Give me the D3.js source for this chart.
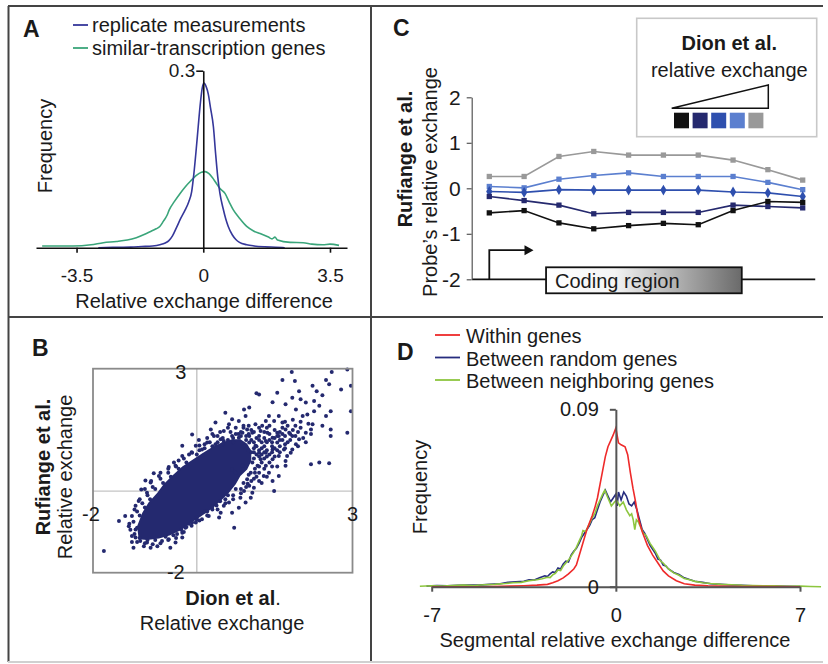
<!DOCTYPE html>
<html>
<head>
<meta charset="utf-8">
<script src="https://cdn.jsdelivr.net/npm/d3@7"></script>
<style>
  body { margin: 0; background: #fff; }
  svg text { font-family: "Liberation Sans", Arial, Helvetica, sans-serif; fill: #1a1a1a; }
</style>
</head>
<body>
<svg id="fig" width="828" height="664"></svg>
<script>
// ---- Panel A: frequency of relative exchange difference ----
const aTicks = [-3.5, 0, 3.5];
const replicateCurve = [[-2.9,0],[-2.5,0.0005],[-2.0,0.001],[-1.7,0.002],[-1.4,0.003],[-1.2,0.005],[-1.05,0.008],[-0.95,0.012],[-0.85,0.02],[-0.74,0.034],[-0.62,0.05],[-0.5,0.064],[-0.4,0.078],[-0.32,0.095],[-0.26,0.125],[-0.2,0.163],[-0.14,0.205],[-0.08,0.245],[-0.03,0.27],[0.02,0.279],[0.08,0.273],[0.14,0.26],[0.2,0.237],[0.28,0.205],[0.34,0.16],[0.4,0.12],[0.46,0.092],[0.55,0.066],[0.62,0.049],[0.69,0.036],[0.8,0.022],[0.9,0.014],[1.0,0.009],[1.2,0.005],[1.4,0.003],[1.7,0.0015],[2.0,0.0008],[2.25,0]];
const similarCurve = [[-4.45,0.003],[-3.6,0.003],[-3.1,0.005],[-2.76,0.0085],[-2.4,0.0105],[-2.1,0.013],[-1.85,0.017],[-1.57,0.024],[-1.4,0.029],[-1.3,0.032],[-1.2,0.036],[-1.1,0.045],[-1.0,0.055],[-0.94,0.064],[-0.8,0.078],[-0.64,0.092],[-0.5,0.103],[-0.35,0.113],[-0.2,0.122],[-0.05,0.128],[0.05,0.129],[0.15,0.126],[0.25,0.119],[0.35,0.11],[0.45,0.101],[0.6,0.092],[0.72,0.077],[0.83,0.064],[1.0,0.05],[1.2,0.036],[1.4,0.028],[1.57,0.024],[1.8,0.018],[1.9,0.015],[1.98,0.018],[2.05,0.013],[2.4,0.009],[2.76,0.0085],[3.0,0.006],[3.3,0.005],[3.5,0.006],[3.75,0.004]];
const aLegend = ["replicate measurements", "similar-transcription genes"];

// ---- Panel B: scatter Dion vs Rufiange ----
const bTicks = [-2, 3];
// outline of the saturated dense core (points overlap into a solid mass)
const scatterCore = [[-1.12,-1.18],[-1.15,-0.86],[-1.05,-0.53],[-0.93,-0.28],[-0.76,-0.04],[-0.64,0.17],[-0.48,0.37],[-0.28,0.6],[-0.09,0.76],[0.1,0.92],[0.3,1.08],[0.49,1.2],[0.68,1.27],[0.84,1.27],[0.97,1.16],[1.05,0.98],[1.05,0.74],[0.97,0.53],[0.84,0.37],[0.75,0.17],[0.62,-0.04],[0.46,-0.24],[0.27,-0.45],[0.07,-0.63],[-0.12,-0.79],[-0.31,-0.96],[-0.51,-1.08],[-0.73,-1.16],[-0.96,-1.2]];
const scatterPoints = [[1.83,2.92],[2.60,2.92],[2.90,2.98],[2.97,2.58],[2.78,2.49],[2.49,2.72],[2.55,2.62],[2.23,2.58],[2.31,2.45],[2.42,2.35],[1.97,2.45],[1.89,2.70],[1.65,2.72],[1.55,2.41],[1.20,2.37],[1.15,2.40],[1.46,2.18],[1.71,2.13],[1.84,2.29],[2.00,2.25],[2.10,2.17],[2.26,2.21],[2.36,2.09],[1.91,2.00],[2.04,1.84],[2.13,1.88],[2.26,1.96],[2.49,1.84],[2.58,1.96],[2.97,1.96],[2.42,1.60],[2.58,1.51],[2.90,1.43],[2.58,1.35],[2.20,0.66],[2.36,0.70],[2.55,0.68],[1.71,0.62],[1.71,0.74],[1.74,0.86],[1.81,0.94],[1.46,0.25],[1.49,0.00],[1.10,0.08],[1.20,0.25],[1.29,0.37],[1.39,0.45],[1.58,0.37],[1.84,1.02],[1.91,1.15],[1.97,1.27],[2.10,1.43],[2.20,1.51],[2.23,1.64],[1.01,2.05],[0.91,2.00],[0.55,1.92],[0.68,1.76],[0.81,1.72],[0.94,1.84],[1.13,1.64],[1.26,1.60],[1.33,1.72],[1.39,1.84],[1.49,1.72],[1.58,1.84],[1.65,1.68],[1.71,1.51],[1.78,1.43],[1.84,1.35],[1.55,1.43],[1.46,1.31],[1.33,1.23],[1.20,1.35],[1.07,1.43],[0.97,1.51],[0.88,1.43],[0.75,1.55],[0.62,1.64],[0.52,1.47],[0.36,1.68],[0.27,1.51],[0.33,1.35],[0.46,1.27],[-0.09,1.39],[0.04,1.25],[-0.28,1.11],[-0.41,0.62],[-0.54,0.59],[-0.83,0.44],[-0.99,0.26],[-1.07,0.04],[-1.12,-0.24],[-1.38,-0.61],[-1.50,-0.73],[-1.79,-1.47],[-1.22,-1.39],[-1.02,-1.35],[-0.89,-1.39],[-0.76,-1.35],[-0.51,-1.39],[-0.41,-1.26],[-0.28,-1.02],[-0.09,-0.77],[0.10,-0.69],[0.23,-0.61],[0.43,-0.65],[0.46,-0.53],[0.72,-0.90],[0.68,-0.53],[0.81,-0.41],[0.94,-0.28],[1.04,-0.16],[1.07,-0.04],[1.01,0.13],[1.20,0.45],[1.33,0.62],[1.46,0.78],[1.58,0.86],[1.68,1.02],[1.20,0.94],[1.13,1.11],[1.01,1.19],[1.07,0.70],[0.88,0.62],[0.68,0.53],[0.75,0.45],[-0.09,0.94],[0.10,1.02],[-0.28,0.86],[-0.44,0.70],[-0.73,0.37],[-0.89,0.21],[-0.96,-0.04],[-1.18,-0.36],[-1.25,-0.61],[-1.31,-0.86],[-1.18,-0.94],[-1.18,-1.14],[-1.09,-1.22],[-0.96,-1.26],[-0.67,-1.22],[-0.54,-1.18],[-0.22,-0.90],[-0.02,-0.77],[-0.28,-1.14],[0.30,-0.45],[0.52,-0.36],[0.62,-0.28],[0.84,-0.16],[0.91,0.00],[0.97,0.29],[1.04,0.45],[1.17,0.62],[1.23,0.78],[1.33,0.94],[1.46,1.02],[1.55,1.19],[1.58,1.35],[1.36,1.43],[1.23,1.47],[1.01,1.35],[0.81,1.31],[0.68,1.35],[0.52,1.23],[0.36,1.15],[0.20,1.19],[-0.02,1.11],[-1.15,-0.9],[-1.2,-1.05],[-1.1,-0.6],[-1.0,-0.4],[-0.9,-0.2],[-0.8,0.05],[-0.65,0.2],[-0.5,0.35],[-0.35,0.55],[-0.2,0.7],[0.0,0.9],[0.15,1.05],[0.3,1.1],[0.5,1.15],[0.7,1.2],[0.9,1.1],[1.05,0.95],[1.1,0.8],[1.12,0.55],[1.0,0.4],[0.9,0.2],[0.75,0.05],[0.6,-0.1],[0.45,-0.25],[0.3,-0.38],[0.15,-0.5],[0.0,-0.65],[-0.15,-0.8],[-0.3,-0.95],[-0.45,-1.08],[-0.6,-1.12],[-0.8,-1.2],[-0.95,-1.2],[-1.1,-1.15],[1.2,1.0],[1.3,1.1],[1.4,1.25],[1.25,1.2],[1.15,1.3],[1.05,1.25],[0.95,1.35],[1.35,0.85],[1.45,0.95],[0.85,1.45],[0.65,1.45],[1.6,1.1],[1.65,1.25],[1.75,1.2],[1.5,1.5],[1.4,1.6],[1.9,1.6],[2.0,1.7],[1.85,1.75],[2.15,1.65],[1.7,1.35],[1.0,1.0],[1.1,1.05],[1.15,0.9],[1.25,1.05],[1.3,0.95],[1.35,1.2],[1.45,1.1],[1.5,1.3],[1.55,1.0],[1.6,1.45],[1.65,1.55],[1.7,1.05],[1.75,1.6],[1.8,1.25],[1.85,1.5],[1.95,1.45],[2.0,1.55],[2.05,1.3],[1.2,1.55],[1.1,1.45],[1.0,1.6],[0.9,1.55],[0.8,1.4],[0.7,1.3],[0.6,1.25],[0.5,1.3],[0.4,1.2],[0.25,1.2],[0.15,1.15],[1.25,0.7],[1.3,0.55],[1.15,0.35],[1.05,0.25],[0.95,0.1],[0.85,-0.05],[0.7,-0.2],[0.55,-0.3],[0.4,-0.45],[0.2,-0.6],[0.05,-0.72],[-0.1,-0.85],[-0.25,-1.0],[-0.4,-1.15],[-0.7,-1.28],[-0.85,-1.3],[-1.0,-1.28],[-1.15,-1.25],[-1.25,-1.1],[-1.28,-0.95],[-1.22,-0.75],[-1.15,-0.5],[-1.05,-0.3],[-0.95,-0.1],[-0.85,0.1],[-0.7,0.3],[-0.55,0.45],[-0.4,0.6],[-0.25,0.8],[-0.1,0.95],[0.05,1.0],[1.4,0.7],[1.5,0.85],[1.6,0.95],[1.55,0.6],[1.35,0.35],[1.25,0.2],[1.7,1.15],[1.9,1.35],[2.1,1.2],[2.2,1.4],[1.95,1.1],[0.6,1.55],[0.45,1.45],[0.3,1.4],[1.1,1.2],[1.15,1.1],[1.2,1.25],[1.25,0.9],[1.3,1.3],[1.35,1.0],[1.4,1.4],[1.45,1.2],[1.5,1.05],[1.55,1.35],[1.6,1.25],[1.65,1.4],[1.1,0.95],[1.2,0.85],[1.3,0.8],[1.4,0.9],[1.0,1.4],[1.05,1.5],[0.95,1.25],[0.85,1.35],[0.75,1.4],[0.9,1.6],[1.3,1.45],[1.35,1.55],[1.7,1.7],[1.8,1.4],[1.45,0.6],[1.2,0.6],[1.12,0.45],[1.1,0.3],[0.98,0.18],[0.85,0.05],[0.7,-0.1],[0.55,-0.2],[0.38,-0.35],[0.2,-0.5],[0.0,-0.7],[-0.2,-0.88],[-0.38,-1.05],[-0.55,-1.2],[-1.25,-1.25],[-1.3,-0.8],[-1.2,-0.45],[-1.1,-0.2],[-1.0,0.05],[-0.88,0.25],[-0.7,0.45],[-0.55,0.55],[-0.35,0.75],[-0.15,0.9],[0.05,1.12],[0.2,1.3],[0.4,1.35]];

// ---- Panel C: probe profiles along genes ----
const probeIdx = [1, 2, 3, 4, 5, 6, 7, 8, 9, 10];
const cTicks = [-2, -1, 0, 1, 2];
const cGray = [0.26, 0.26, 0.70, 0.81, 0.73, 0.73, 0.73, 0.62, 0.41, 0.18];
const cLightBlue = [0.04, 0.01, 0.20, 0.28, 0.34, 0.26, 0.26, 0.26, 0.13, -0.03];
const cBlue = [-0.07, -0.09, -0.03, -0.04, -0.04, -0.04, -0.04, -0.08, -0.10, -0.18];
const cNavy = [-0.18, -0.27, -0.37, -0.56, -0.53, -0.53, -0.53, -0.37, -0.40, -0.43];
const cBlack = [-0.54, -0.49, -0.76, -0.89, -0.82, -0.77, -0.80, -0.49, -0.29, -0.31];

// ---- Panel D: segmental relative exchange difference ----
const dTicks = [-7, 0, 7];
const withinGenes = [[-7,0],[-5,0],[-4,0.0003],[-3.5,0.0005],[-3,0.0008],[-2.6,0.0012],[-2.4,0.002],[-2.2,0.003],[-2,0.0045],[-1.8,0.0065],[-1.6,0.009],[-1.5,0.011],[-1.3,0.02],[-1.1,0.029],[-0.9,0.036],[-0.8,0.04],[-0.7,0.045],[-0.6,0.052],[-0.5,0.059],[-0.4,0.066],[-0.3,0.071],[-0.2,0.074],[-0.1,0.077],[0,0.0805],[0.1,0.073],[0.2,0.072],[0.35,0.071],[0.45,0.067],[0.55,0.058],[0.65,0.05],[0.75,0.043],[0.85,0.035],[1.0,0.028],[1.2,0.021],[1.4,0.016],[1.6,0.012],[1.8,0.008],[2.0,0.0055],[2.3,0.003],[2.6,0.0015],[3,0.0008],[3.5,0.0004],[4.5,0.0001],[7,0]];
const randomGenes = [[-7.2,0.0003],[-6.8,0.0006],[-6.4,0.0004],[-6,0.0007],[-5.6,0.0009],[-5.2,0.0008],[-4.8,0.0012],[-4.4,0.0015],[-4.1,0.0022],[-3.8,0.0025],[-3.5,0.0028],[-3.3,0.0035],[-3.1,0.0034],[-2.9,0.0045],[-2.7,0.0055],[-2.6,0.0052],[-2.5,0.0065],[-2.4,0.0075],[-2.3,0.0072],[-2.2,0.0095],[-2.1,0.009],[-2.0,0.0115],[-1.9,0.013],[-1.8,0.0125],[-1.7,0.016],[-1.6,0.018],[-1.5,0.0195],[-1.4,0.022],[-1.3,0.025],[-1.2,0.027],[-1.1,0.029],[-1.0,0.031],[-0.9,0.034],[-0.8,0.035],[-0.7,0.039],[-0.6,0.043],[-0.5,0.046],[-0.4,0.049],[-0.3,0.046],[-0.2,0.043],[-0.1,0.045],[0,0.047],[0.05,0.041],[0.1,0.048],[0.2,0.044],[0.3,0.048],[0.4,0.046],[0.5,0.042],[0.6,0.041],[0.7,0.043],[0.8,0.039],[0.9,0.034],[1.0,0.029],[1.1,0.027],[1.2,0.024],[1.3,0.021],[1.4,0.019],[1.5,0.017],[1.6,0.014],[1.7,0.0135],[1.8,0.011],[1.9,0.0105],[2.0,0.009],[2.2,0.0072],[2.4,0.0062],[2.6,0.0045],[2.8,0.0036],[3.0,0.0028],[3.3,0.0022],[3.6,0.0015],[4.0,0.0012],[4.4,0.0009],[4.8,0.0007],[5.2,0.0005],[5.6,0.0004],[6.0,0.0003],[6.5,0.0002],[7,0.0001]];
const neighborGenes = [[-7.45,0.0002],[-7,0.0005],[-6.6,0.0003],[-6.2,0.0006],[-5.8,0.0008],[-5.4,0.0006],[-5,0.001],[-4.6,0.0012],[-4.2,0.0016],[-3.9,0.002],[-3.6,0.0022],[-3.3,0.003],[-3.0,0.0035],[-2.8,0.004],[-2.6,0.0048],[-2.5,0.0046],[-2.4,0.006],[-2.3,0.0068],[-2.2,0.0085],[-2.1,0.0082],[-2.0,0.0105],[-1.9,0.012],[-1.8,0.0135],[-1.7,0.0155],[-1.6,0.0175],[-1.5,0.02],[-1.4,0.023],[-1.3,0.026],[-1.25,0.0285],[-1.15,0.028],[-1.0,0.032],[-0.9,0.035],[-0.8,0.037],[-0.7,0.041],[-0.6,0.044],[-0.5,0.047],[-0.42,0.049],[-0.3,0.045],[-0.17,0.041],[-0.05,0.043],[0.02,0.044],[0.15,0.041],[0.28,0.043],[0.4,0.039],[0.53,0.036],[0.6,0.037],[0.66,0.034],[0.72,0.029],[0.78,0.034],[0.85,0.033],[0.95,0.03],[1.05,0.027],[1.15,0.026],[1.3,0.022],[1.4,0.02],[1.5,0.018],[1.6,0.0155],[1.7,0.013],[1.8,0.012],[1.9,0.0105],[2.0,0.009],[2.2,0.007],[2.4,0.0058],[2.6,0.0042],[2.8,0.0035],[3.0,0.0027],[3.3,0.002],[3.6,0.0016],[4.0,0.0012],[4.4,0.001],[4.8,0.0007],[5.2,0.0006],[5.6,0.0004],[6.0,0.0004],[6.5,0.0002],[7,0.0003],[7.4,0.0001],[7.8,0]];
const dLegend = ["Within genes", "Between random genes", "Between neighboring genes"];

const svg = d3.select("#fig");
const plain = d => String(d);

function label(g, x, y, s, size, opts = {}) {
    const t = g.append("text")
        .attr("x", x).attr("y", y)
        .attr("font-size", size)
        .attr("text-anchor", opts.anchor || "start")
        .attr("dominant-baseline", "central")
        .text(s);
    if (opts.bold) t.attr("font-weight", "bold");
    if (opts.rotate) t.attr("transform", `rotate(-90, ${x}, ${y})`);
    return t;
}

function styleAxis(g, color, width, size) {
    g.attr("color", color);
    g.selectAll("path, line").attr("stroke-width", width);
    g.selectAll("text").attr("font-size", size).style("fill", "#1a1a1a");
}

// figure frame and panel dividers
const frame = svg.append("g").attr("stroke", "#444").attr("stroke-width", 2);
frame.append("line").attr("x1", 8).attr("x2", 823).attr("y1", 6).attr("y2", 6);
frame.append("line").attr("x1", 8.5).attr("x2", 8.5).attr("y1", 6).attr("y2", 662);
frame.append("line").attr("x1", 371).attr("x2", 371).attr("y1", 6).attr("y2", 662);
frame.append("line").attr("x1", 8).attr("x2", 823).attr("y1", 317).attr("y2", 317);
frame.append("line").attr("x1", 8).attr("x2", 823).attr("y1", 662).attr("y2", 662).attr("stroke", "#d0d0d0");

// ================= Panel A =================
const gA = svg.append("g");
const xA = d3.scaleLinear().domain([-4.62, 3.97]).range([36, 347]);
const yA = d3.scaleLinear().domain([0, 0.3]).range([247.7, 70.7]);
const lineA = d3.line().x(d => xA(d[0])).y(d => yA(d[1])).curve(d3.curveMonotoneX);
const aColors = ["#35379a", "#3aa57a"];

gA.append("path").datum(similarCurve).attr("d", lineA)
    .attr("fill", "none").attr("stroke", aColors[1]).attr("stroke-width", 1.6);
gA.append("path").datum(replicateCurve).attr("d", lineA)
    .attr("fill", "none").attr("stroke", aColors[0]).attr("stroke-width", 1.6);

const axA = gA.append("g").attr("transform", `translate(0,${yA(0)})`)
    .call(d3.axisBottom(xA).tickValues(aTicks).tickSize(5).tickSizeOuter(0).tickPadding(16).tickFormat(plain));
styleAxis(axA, "#111", 1.6, 19);
const ayA = gA.append("g").attr("transform", `translate(${xA(0)},0)`)
    .call(d3.axisLeft(yA).tickValues([0.3]).tickSize(7).tickSizeOuter(0).tickPadding(1).tickFormat(plain));
styleAxis(ayA, "#111", 1.6, 19);

label(gA, 23, 29, "A", 23, { bold: true });
aLegend.forEach((s, i) => {
    const y = 25 + i * 23;
    gA.append("line").attr("x1", 73).attr("x2", 88).attr("y1", y).attr("y2", y)
        .attr("stroke", aColors[i]).attr("stroke-width", 1.8);
    label(gA, 92, y, s, 20);
});
label(gA, 45, 146, "Frequency", 20, { anchor: "middle", rotate: true });
label(gA, 204, 301, "Relative exchange difference", 20, { anchor: "middle" });

// ================= Panel B =================
const gB = svg.append("g");
const xB = d3.scaleLinear().domain([-2, 3]).range([93, 352.5]);
const yB = d3.scaleLinear().domain([-2, 3]).range([572.7, 368.7]);

gB.append("line").attr("x1", xB(0)).attr("x2", xB(0)).attr("y1", yB(-2)).attr("y2", yB(3))
    .attr("stroke", "#c4c4c4").attr("stroke-width", 1.4);
gB.append("line").attr("x1", xB(-2)).attr("x2", xB(3)).attr("y1", yB(0)).attr("y2", yB(0))
    .attr("stroke", "#c4c4c4").attr("stroke-width", 1.4);

const dotColor = "#24296f";
gB.append("path").datum(scatterCore)
    .attr("d", d3.line().x(d => xB(d[0])).y(d => yB(d[1])).curve(d3.curveLinearClosed))
    .attr("fill", dotColor);
gB.append("g").selectAll("circle").data(scatterPoints).join("circle")
    .attr("cx", d => xB(d[0])).attr("cy", d => yB(d[1])).attr("r", 2)
    .attr("fill", dotColor);

gB.append("rect").attr("x", xB(-2)).attr("y", yB(3))
    .attr("width", xB(3) - xB(-2)).attr("height", yB(-2) - yB(3))
    .attr("fill", "none").attr("stroke", "#8a8a8a").attr("stroke-width", 1.8);

label(gB, xB(0) - 16, yB(3) + 3, plain(bTicks[1]), 20, { anchor: "middle" });
label(gB, xB(0) - 21, yB(-2) - 1, plain(bTicks[0]), 20, { anchor: "middle" });
label(gB, xB(-2) - 2, yB(0) + 23, plain(bTicks[0]), 20, { anchor: "middle" });
label(gB, xB(3), yB(0) + 23, plain(bTicks[1]), 20, { anchor: "middle" });

label(gB, 32, 348, "B", 23, { bold: true });
label(gB, 43, 467, "Rufiange et al.", 20, { anchor: "middle", bold: true, rotate: true });
label(gB, 65, 477, "Relative exchange", 20, { anchor: "middle", rotate: true });
const dion = gB.append("text").attr("x", 233).attr("y", 598).attr("font-size", 20)
    .attr("text-anchor", "middle").attr("dominant-baseline", "central");
dion.append("tspan").attr("font-weight", "bold").text("Dion et al");
dion.append("tspan").text(".");
label(gB, 222, 623, "Relative exchange", 20, { anchor: "middle" });

// ================= Panel C =================
const gC = svg.append("g");
const xC = d3.scaleLinear().domain([1, 10]).range([489.3, 802.7]);
const yC = d3.scaleLinear().domain([-2, 2]).range([279.3, 97.3]);

// gene diagram (positions in probe units)
const gene = { arrowTip: 2.27, codingStart: 2.63, codingEnd: 8.25, lineEnd: 10.36, arrowTop: -1.36 };
const grad = svg.append("defs").append("linearGradient").attr("id", "coding");
grad.append("stop").attr("offset", "0%").attr("stop-color", "#ffffff");
grad.append("stop").attr("offset", "35%").attr("stop-color", "#f4f4f4");
grad.append("stop").attr("offset", "100%").attr("stop-color", "#6a6a6a");

gC.append("line").attr("x1", 472).attr("x2", xC(gene.lineEnd))
    .attr("y1", yC(-2)).attr("y2", yC(-2)).attr("stroke", "#111").attr("stroke-width", 1.8);
gC.append("path")
    .attr("d", `M${xC(1)},${yC(-2)} V${yC(gene.arrowTop)} H${xC(gene.arrowTip) - 8}`)
    .attr("fill", "none").attr("stroke", "#111").attr("stroke-width", 1.8);
gC.append("path")
    .attr("d", `M${xC(gene.arrowTip) - 9},${yC(gene.arrowTop) - 5} L${xC(gene.arrowTip)},${yC(gene.arrowTop)} L${xC(gene.arrowTip) - 9},${yC(gene.arrowTop) + 5} Z`)
    .attr("fill", "#111");
gC.append("rect").attr("x", xC(gene.codingStart)).attr("y", yC(-2) - 12)
    .attr("width", xC(gene.codingEnd) - xC(gene.codingStart)).attr("height", 26)
    .attr("fill", "url(#coding)").attr("stroke", "#111").attr("stroke-width", 1.8);
label(gC, xC(gene.codingStart) + 9, yC(-2) + 1.5, "Coding region", 20);

const ayC = gC.append("g").attr("transform", "translate(471.7,0)")
    .call(d3.axisLeft(yC).tickValues(cTicks).tickSize(5).tickSizeOuter(0).tickPadding(6).tickFormat(plain));
styleAxis(ayC, "#555", 1.2, 21);

const cSeries = [
    { v: cGray, color: "#999999" },
    { v: cLightBlue, color: "#5b7fcf" },
    { v: cBlue, color: "#2e4fae" },
    { v: cNavy, color: "#25296e" },
    { v: cBlack, color: "#111111" }
];
const lineC = d3.line().x((d, i) => xC(probeIdx[i])).y(d => yC(d));
cSeries.forEach(s => {
    gC.append("path").datum(s.v).attr("d", lineC)
        .attr("fill", "none").attr("stroke", s.color).attr("stroke-width", 1.6);
    gC.append("g").selectAll("path").data(s.v).join("path")
        .attr("transform", (d, i) => `translate(${xC(probeIdx[i])},${yC(d)})`)
        .attr("d", d3.symbol(s.v === cBlue ? d3.symbolDiamond : d3.symbolSquare, s.v === cBlue ? 34 : 28))
        .attr("fill", s.color);
});

// legend: low to high relative exchange
const legendColors = cSeries.map(s => s.color).reverse();
gC.append("rect").attr("x", 636.7).attr("y", 18.3).attr("width", 180).attr("height", 118.4)
    .attr("fill", "#fff").attr("stroke", "#c8c8c8").attr("stroke-width", 1.6);
label(gC, 729.3, 43, "Dion et al.", 20, { anchor: "middle", bold: true });
label(gC, 729.3, 70, "relative exchange", 20, { anchor: "middle" });
gC.append("path").attr("d", "M671.7,108.3 L768.3,85 L768.3,108.3 Z")
    .attr("fill", "none").attr("stroke", "#111").attr("stroke-width", 1.5);
gC.append("g").selectAll("rect").data(legendColors).join("rect")
    .attr("x", (d, i) => 674 + i * 18.6).attr("y", 112.7).attr("width", 15).attr("height", 15.6)
    .attr("fill", d => d);

label(gC, 393, 28, "C", 23, { bold: true });
label(gC, 405, 159, "Rufiange et al.", 20, { anchor: "middle", bold: true, rotate: true });
label(gC, 430, 182, "Probe\u2019s relative exchange", 20, { anchor: "middle", rotate: true });

// ================= Panel D =================
const gD = svg.append("g");
const xD = d3.scaleLinear().domain([-7, 7]).range([431.7, 800]);
const yD = d3.scaleLinear().domain([0, 0.09]).range([586.7, 409.3]);
const lineD = d3.line().x(d => xD(d[0])).y(d => yD(d[1]));
const dColors = ["#ee2a2a", "#262c7e", "#8dc63f"];

gD.append("path").datum(randomGenes).attr("d", lineD)
    .attr("fill", "none").attr("stroke", dColors[1]).attr("stroke-width", 1.6);
gD.append("path").datum(neighborGenes).attr("d", lineD)
    .attr("fill", "none").attr("stroke", dColors[2]).attr("stroke-width", 1.6);
gD.append("path").datum(withinGenes).attr("d", lineD)
    .attr("fill", "none").attr("stroke", dColors[0]).attr("stroke-width", 1.6);

const axD = gD.append("g").attr("transform", `translate(0,${yD(0)})`)
    .call(d3.axisBottom(xD).tickValues(dTicks).tickSize(5).tickSizeOuter(0).tickPadding(16).tickFormat(plain));
styleAxis(axD, "#555", 2, 20);
const ayD = gD.append("g").attr("transform", `translate(${xD(0)},0)`)
    .call(d3.axisLeft(yD).tickValues([0, 0.09]).tickSize(6).tickSizeOuter(0).tickPadding(11).tickFormat(plain));
styleAxis(ayD, "#555", 2, 20);

label(gD, 397, 352, "D", 23, { bold: true });
dLegend.forEach((s, i) => {
    const y = 335 + i * 22.5;
    gD.append("line").attr("x1", 435).attr("x2", 460).attr("y1", y).attr("y2", y)
        .attr("stroke", dColors[i]).attr("stroke-width", 1.8);
    label(gD, 466, y + 1, s, 20);
});
label(gD, 420, 487, "Frequency", 20, { anchor: "middle", rotate: true });
label(gD, 615, 640, "Segmental relative exchange difference", 20, { anchor: "middle" });
</script>
</body>
</html>
